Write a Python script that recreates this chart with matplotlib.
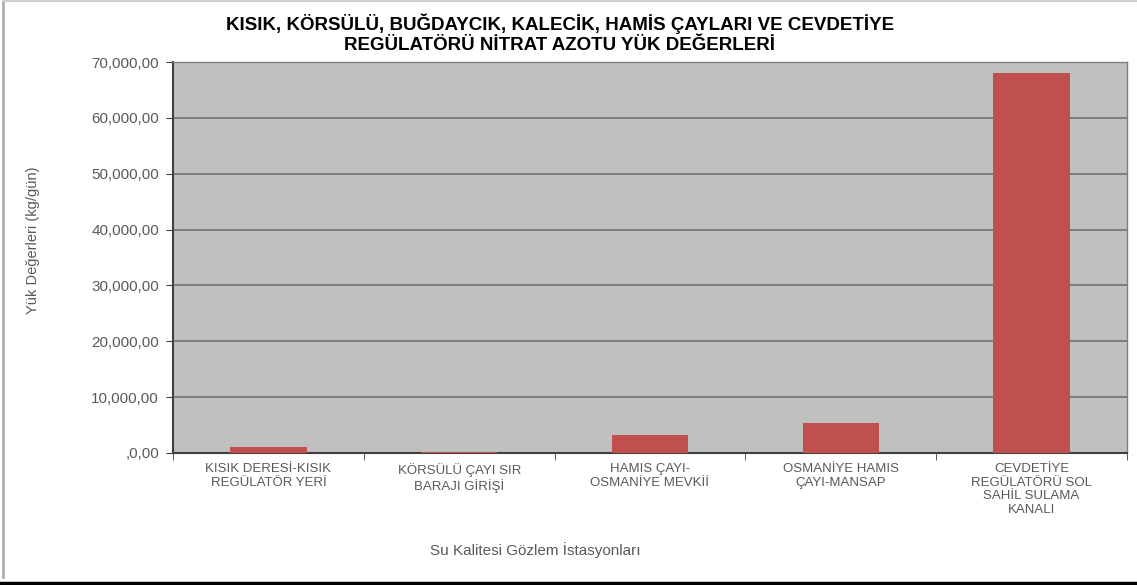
import matplotlib
matplotlib.use("Agg")
import matplotlib.pyplot as plt
from matplotlib.lines import Line2D
import numpy as np

categories = [
    "KISIK DERESİ-KISIK\nREGÜLATÖR YERİ",
    "KÖRSÜLÜ ÇAYI SIR\nBARAJI GİRİŞİ",
    "HAMIS ÇAYI-\nOSMANİYE MEVKİİ",
    "OSMANİYE HAMIS\nÇAYI-MANSAP",
    "CEVDETİYE\nREGÜLATÖRÜ SOL\nSAHİL SULAMA\nKANALI",
]
loads = [1000, 200, 3150, 5400, 68000]
y_ticks = [0, 10000, 20000, 30000, 40000, 50000, 60000, 70000]
y_tick_labels = [",0,00", "10,000,00", "20,000,00", "30,000,00",
                 "40,000,00", "50,000,00", "60,000,00", "70,000,00"]

title = ("KISIK, KÖRSÜLÜ, BUĞDAYCIK, KALECİK, HAMİS ÇAYLARI VE CEVDETİYE\n"
         "REGÜLATÖRÜ NİTRAT AZOTU YÜK DEĞERLERİ")

plt.rcParams['font.family'] = ['Liberation Sans', 'DejaVu Sans']
text_grey = "#595959"
W, H = 1137, 585

fig = plt.figure(figsize=(W / 100, H / 100), dpi=100)
ax = fig.add_axes([173 / W, 1 - 453 / H, (1127 - 173) / W, (453 - 62) / H])
ax.set_facecolor("#C0C0C0")

x = np.arange(len(categories))
ax.bar(x, loads, width=0.4, color="#C0504D", zorder=3)

ax.set_xlim(-0.5, len(categories) - 0.5)
ax.set_ylim(0, 70000)
ax.set_yticks(y_ticks)
ax.set_yticklabels(y_tick_labels, color=text_grey, fontsize=11)
ax.yaxis.grid(True, color="#707070", linewidth=1.2, zorder=1)
ax.set_axisbelow(True)

# category labels, ticks at the category boundaries
ax.set_xticks(x)
ax.set_xticklabels(categories, color=text_grey, fontsize=9.5, linespacing=1.2)
ax.tick_params(axis="x", length=0, pad=7)
ax.set_xticks(np.arange(len(categories) + 1) - 0.5, minor=True)
ax.tick_params(axis="x", which="minor", length=5, color="#404040", direction="out")
ax.tick_params(axis="y", length=5, color="#404040", direction="out", pad=5)

for side in ["left", "bottom"]:
    ax.spines[side].set_color("#404040")
    ax.spines[side].set_linewidth(1.5)
for side in ["right", "top"]:
    ax.spines[side].set_color("#808080")
    ax.spines[side].set_linewidth(1.0)

fig.text(560 / W, 1 - 34 / H, title, ha="center", va="center", fontsize=13.5,
         fontweight="bold", linespacing=1.25)
fig.text(535 / W, 1 - 550 / H, "Su Kalitesi Gözlem İstasyonları",
         ha="center", va="center", fontsize=11, color=text_grey)
fig.text(33 / W, 1 - 240 / H, "Yük Değerleri (kg/gün)", rotation=90,
         ha="center", va="center", fontsize=10.5, color=text_grey)

# chart frame like the original screenshot
fig.add_artist(Line2D([3 / W, 3 / W], [1 - 577 / H, 1], color="#b0b0b0", linewidth=2))
fig.add_artist(Line2D([3 / W, 1], [1 - 1 / H, 1 - 1 / H], color="#d0d0d0", linewidth=1.5))
fig.add_artist(Line2D([0, 1], [1 - 583 / H, 1 - 583 / H], color="black", linewidth=2.5))

fig.savefig("out.png", dpi=100)
